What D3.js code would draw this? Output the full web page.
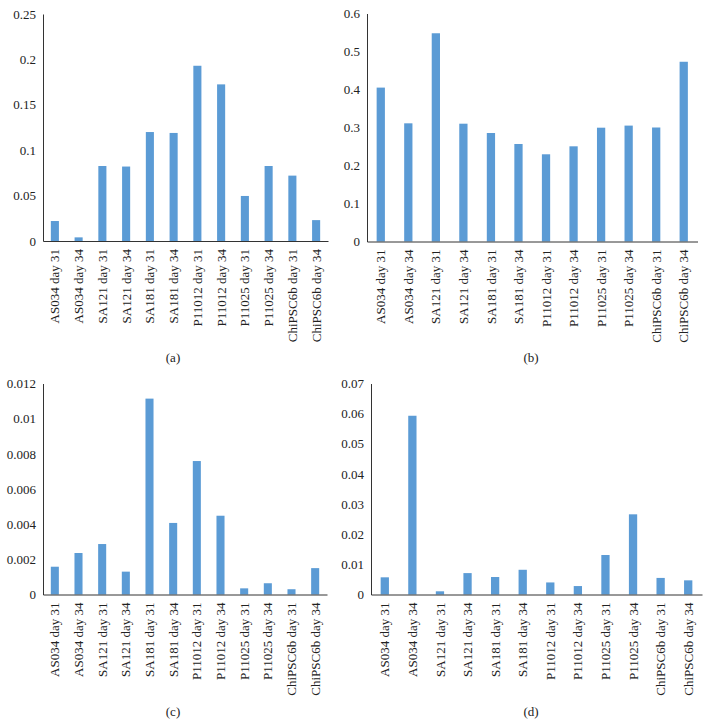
<!DOCTYPE html>
<html>
<head>
<meta charset="utf-8">
<script src="https://cdn.jsdelivr.net/npm/d3@7"></script>
<style>
  body { margin: 0; background: #fff; }
  svg { display: block; }
  text { font-family: "Liberation Serif", "Times New Roman", serif; fill: #222; }
</style>
</head>
<body>
<svg id="chart" width="710" height="726"></svg>
<script>
const categories = ["AS034 day 31","AS034 day 34","SA121 day 31","SA121 day 34","SA181 day 31","SA181 day 34","P11012 day 31","P11012 day 34","P11025 day 31","P11025 day 34","ChiPSC6b day 31","ChiPSC6b day 34"];

const valuesA = [0.022, 0.004, 0.0826, 0.082, 0.120, 0.119, 0.193, 0.1725, 0.0496, 0.0826, 0.072, 0.023];
const valuesB = [0.405, 0.311, 0.548, 0.310, 0.2855, 0.2566, 0.2295, 0.2505, 0.2995, 0.305, 0.300, 0.473];
const valuesC = [0.00158, 0.00236, 0.00287, 0.0013, 0.01114, 0.00407, 0.00759, 0.00448, 0.00035, 0.00064, 0.0003, 0.0015];
const valuesD = [0.0057, 0.0593, 0.00106, 0.0071, 0.0058, 0.0082, 0.0040, 0.0028, 0.0131, 0.0266, 0.0055, 0.0047];

const ticksA = [0, 0.05, 0.1, 0.15, 0.2, 0.25];
const ticksB = [0, 0.1, 0.2, 0.3, 0.4, 0.5, 0.6];
const ticksC = [0, 0.002, 0.004, 0.006, 0.008, 0.01, 0.012];
const ticksD = [0, 0.01, 0.02, 0.03, 0.04, 0.05, 0.06, 0.07];

const captions = ["(a)", "(b)", "(c)", "(d)"];

const panels = [
  { values: valuesA, ticks: ticksA, caption: captions[0], x0: 43,  x1: 328,   yTop: 14,    yBot: 241,   pad: 0.66, capX: 173, capY: 362 },
  { values: valuesB, ticks: ticksB, caption: captions[1], x0: 367, x1: 697.5, yTop: 13.5,  yBot: 241.5, pad: 0.70, capX: 531, capY: 362 },
  { values: valuesC, ticks: ticksC, caption: captions[2], x0: 43,  x1: 327,   yTop: 383.5, yBot: 594.5, pad: 0.66, capX: 173, capY: 716 },
  { values: valuesD, ticks: ticksD, caption: captions[3], x0: 371, x1: 702,   yTop: 383.5, yBot: 594.5, pad: 0.70, capX: 531, capY: 716 }
];

const svg = d3.select("#chart");
const fmt = v => (+v.toFixed(6)).toString();

panels.forEach(p => {
  const x = d3.scaleBand().domain(categories).range([p.x0, p.x1])
    .paddingInner(p.pad).paddingOuter(p.pad / 2);
  const y = d3.scaleLinear().domain([0, d3.max(p.ticks)]).range([p.yBot, p.yTop]);
  const g = svg.append("g");

  // bars
  g.selectAll("rect.bar").data(p.values).enter().append("rect")
    .attr("class", "bar")
    .attr("x", (d, i) => x(categories[i]))
    .attr("y", d => y(d))
    .attr("width", x.bandwidth())
    .attr("height", d => y(0) - y(d))
    .attr("fill", "#5b9bd5");

  // y axis
  const yAxis = d3.axisLeft(y).tickValues(p.ticks).tickFormat(fmt).tickSize(0).tickPadding(7);
  const ya = g.append("g").attr("transform", `translate(${p.x0},0)`).call(yAxis);
  ya.select(".domain").attr("stroke", "#333").attr("stroke-width", 1);
  ya.selectAll("text").attr("font-size", 13).style("font-family", "Liberation Serif, serif").attr("fill", "#222");

  // x axis
  const xAxis = d3.axisBottom(x).tickSize(0).tickPadding(0);
  const xa = g.append("g").attr("transform", `translate(0,${p.yBot})`).call(xAxis);
  xa.select(".domain").attr("stroke", "#333").attr("stroke-width", 1);
  xa.selectAll("text")
    .attr("font-size", 13)
    .style("font-family", "Liberation Serif, serif")
    .attr("fill", "#222")
    .attr("transform", "rotate(-90)")
    .attr("text-anchor", "end")
    .attr("x", -8)
    .attr("y", 0)
    .attr("dy", "0.35em");

  // caption
  svg.append("text").attr("x", p.capX).attr("y", p.capY)
    .attr("text-anchor", "middle").attr("font-size", 13).text(p.caption);
});
</script>
</body>
</html>
